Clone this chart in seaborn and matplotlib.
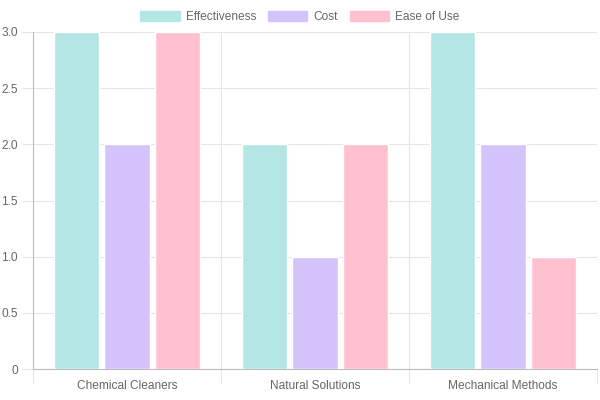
import matplotlib
matplotlib.use("Agg")
import matplotlib.pyplot as plt
from matplotlib.patches import Patch
import pandas as pd
import seaborn as sns

categories = ["Chemical Cleaners", "Natural Solutions", "Mechanical Methods"]
series = ["Effectiveness", "Cost", "Ease of Use"]
effectiveness = [3, 2, 3]
cost = [2, 1, 2]
ease_of_use = [3, 2, 1]
colors = ["#b3e6e4", "#d4c4fb", "#ffc1d0"]

df = pd.DataFrame({
    "category": categories * 3,
    "series": [s for s in series for _ in categories],
    "value": effectiveness + cost + ease_of_use,
})

sns.set_style("white")
plt.rcParams["font.family"] = ["Liberation Sans", "DejaVu Sans"]

fig = plt.figure(figsize=(6, 4), dpi=100)
ax = fig.add_axes([0.055, 0.0775, 0.94, 0.8425])

sns.barplot(data=df, x="category", y="value", hue="series", palette=colors,
            width=0.8, gap=0.1, saturation=1, ax=ax, legend=False, zorder=3)

ax.set_xlim(-0.5, 2.5)
ax.set_ylim(0, 3)
ax.set_yticks([0, 0.5, 1, 1.5, 2, 2.5, 3])
ax.set_yticklabels(["0", "0.5", "1.0", "1.5", "2.0", "2.5", "3.0"])
ax.set_xlabel("")
ax.set_ylabel("")

grid_c = "#e6e6e6"
ax.yaxis.grid(True, color=grid_c, lw=0.8, zorder=0)
ax.set_xticks([-0.5, 0.5, 1.5, 2.5], minor=True)
ax.xaxis.grid(True, which="minor", color=grid_c, lw=0.8, zorder=0)
ax.tick_params(axis="x", which="major", bottom=True, length=0, pad=8,
               labelsize=8.6, labelcolor="#666666")
ax.tick_params(axis="x", which="minor", bottom=True, length=10, width=0.8,
               color=grid_c, direction="out")
ax.tick_params(axis="y", left=True, length=8, width=0.8, color=grid_c, pad=3,
               labelsize=8.6, labelcolor="#666666")

for s in ["top", "right"]:
    ax.spines[s].set_visible(False)
ax.spines["left"].set_color("#bdbdbd")
ax.spines["bottom"].set_color("#bdbdbd")
ax.spines["left"].set_linewidth(0.8)
ax.spines["bottom"].set_linewidth(0.8)

handles = [Patch(facecolor=c, edgecolor=c, label=s) for c, s in zip(colors, series)]
fig.legend(handles=handles, loc="upper center", bbox_to_anchor=(0.5, 1.0), ncol=3,
           frameon=False, fontsize=8.6, labelcolor="#666666", handlelength=3.3,
           handleheight=0.9, handletextpad=0.5, columnspacing=1.0)

fig.savefig("out.png", dpi=100)
